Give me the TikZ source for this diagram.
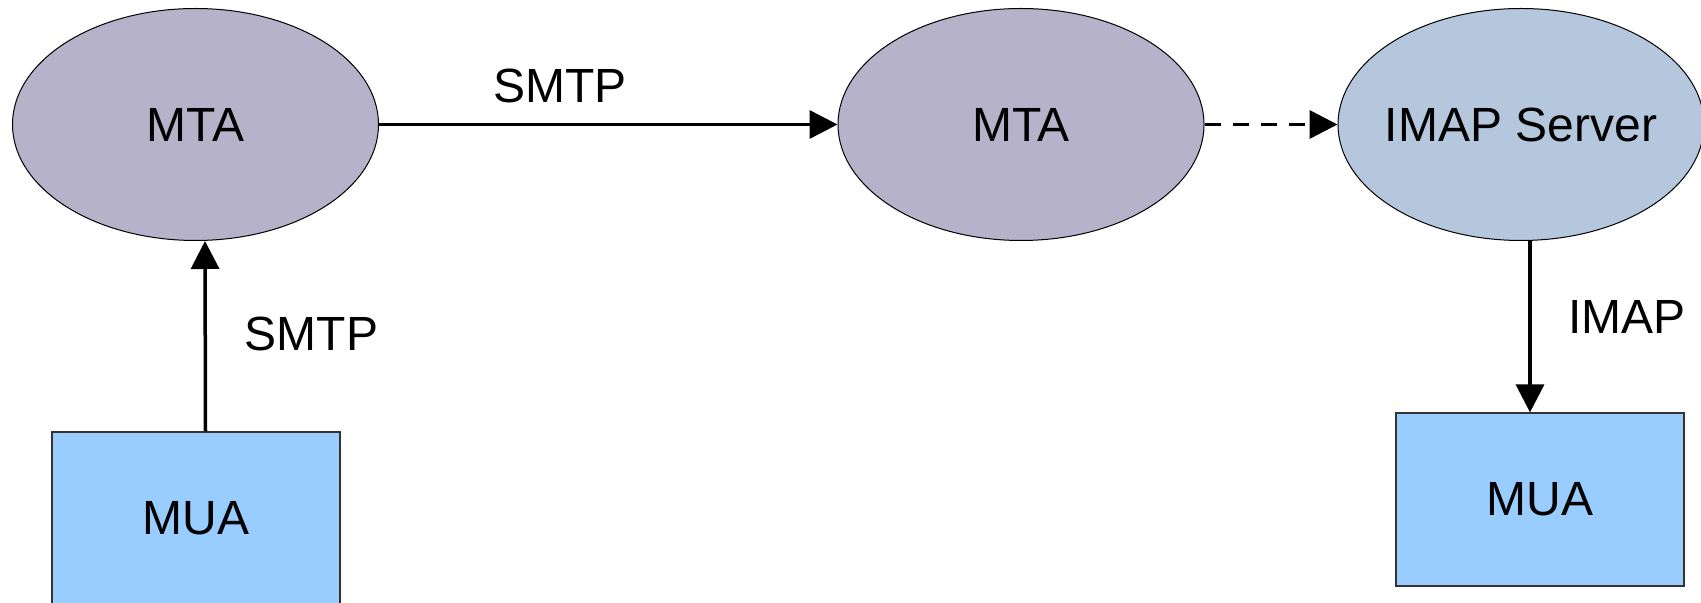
\documentclass[tikz,border=0pt]{standalone}
\usepackage{fontspec}
\setmainfont{Liberation Sans}
\usetikzlibrary{shapes.geometric,arrows.meta}

\definecolor{mtafill}{HTML}{B5B2C9}
\definecolor{imapfill}{HTML}{B4C7DC}
\definecolor{muafill}{HTML}{99CCFF}
\definecolor{boxline}{HTML}{333333}

\tikzset{
  every node/.style={font=\fontsize{24}{28}\selectfont},
  ell/.style={ellipse, draw=black, line width=0.5pt, inner sep=0pt,
              minimum width=183pt, minimum height=116pt},
  mta/.style={ell, fill=mtafill},
  srv/.style={ell, fill=imapfill},
  mua/.style={rectangle, draw=boxline, line width=0.6pt, fill=muafill,
              minimum width=144pt, minimum height=86.5pt, inner sep=0pt},
  lbl/.style={inner sep=0pt},
  flow/.style={line width=1.75pt, -{Triangle[length=14pt,width=14pt]}},
  flowdash/.style={flow, dash pattern=on 8pt off 6pt}
}

\begin{document}
\begin{tikzpicture}[x=0.5pt, y=-0.5pt]
  \useasboundingbox (0,0) rectangle (1701,603);

  % servers
  \node[mta] (mta1) at (195.5,124.5) {\makebox[0pt]{MTA}};
  \node[mta] (mta2) at (1021,124.5) {\makebox[0pt]{MTA}};
  \node[srv] (imap) at (1521,124.5) {\makebox[0pt]{IMAP Server}};

  % clients
  \node[mua] (mua1) at (196,518.5) {MUA};
  \node[mua] (mua2) at (1540,499.5) {MUA};

  % connections
  \draw[flow] ([xshift=4.75pt]mua1.north) -- ([xshift=4.75pt]mta1.south);
  \draw[flow] (mta1.east) -- (mta2.west);
  \draw[flowdash] (mta2.east) -- (imap.west);
  \draw[flow] ([xshift=4.5pt]imap.south) -- ([xshift=-5pt]mua2.north);

  % protocol labels
  \node[lbl] (smtpa) at (560,85.5) {SMTP};
  \node[lbl] (smtpb) at (311.5,333.5) {SMTP};
  \node[lbl] (imapl) at (1627,317) {IMAP};
\end{tikzpicture}
\end{document}
